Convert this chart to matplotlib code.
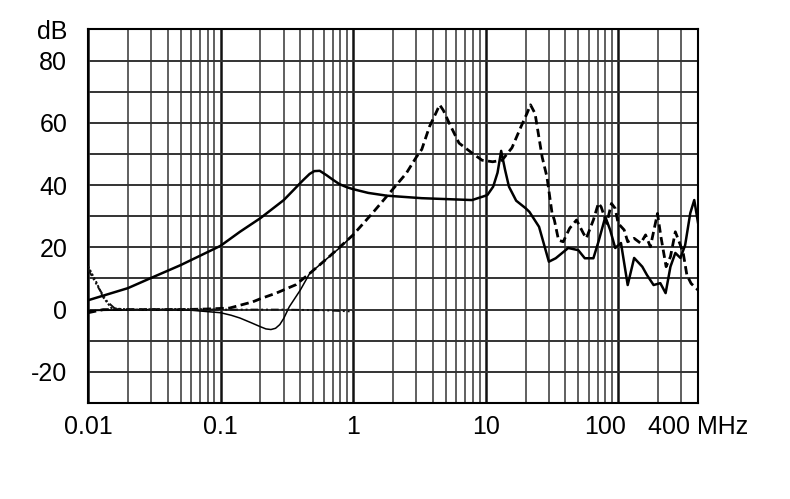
import matplotlib
matplotlib.use("Agg")
import matplotlib.pyplot as plt
import matplotlib.transforms as mtransforms
from matplotlib.ticker import LogLocator, NullFormatter

plt.rcParams["font.family"] = ["Liberation Sans", "DejaVu Sans"]

# main solid curve (MHz, dB)
sol_f = [0.01, 0.02, 0.03, 0.05, 0.1, 0.14, 0.2, 0.3, 0.42, 0.47, 0.51, 0.56,
         0.63, 0.7, 0.79, 0.9, 1.0, 1.3, 1.8, 3.3, 7.9, 9.5, 10.3, 11.4, 12.3,
         13.1, 14.0, 15.0, 17.0, 20.0, 21.4, 25.3, 30.0, 33.8, 42.0, 50.0,
         56.0, 65.0, 71.0, 80.0, 87.0, 95.0, 105.0, 118.0, 132.0, 152.0,
         165.0, 185.0, 208.0, 228.0, 248.0, 270.0, 295.0, 320.0, 350.0, 375.0,
         400.0]
sol_db = [3.0, 6.9, 10.2, 14.3, 20.5, 25.0, 29.4, 35.2, 41.6, 43.6, 44.5, 44.6,
          43.2, 41.8, 40.3, 39.3, 38.7, 37.5, 36.6, 35.8, 35.2, 36.3, 36.8, 39.5, 44.0,
          51.0, 45.0, 39.5, 35.0, 32.6, 31.4, 26.6, 15.4, 16.5, 19.8, 19.1,
          16.5, 16.5, 21.8, 29.8, 25.6, 19.8, 21.4, 7.9, 16.6, 13.8,
          11.1, 7.9, 8.5, 5.3, 13.8, 18.2, 16.6, 20.7, 31.0, 35.2,
          28.0]

# main dashed curve
dsh_f = [0.01, 0.013, 0.02, 0.05, 0.08, 0.117, 0.175, 0.2, 0.263, 0.37, 0.47,
         0.66, 1.0, 1.4, 1.88, 2.52, 3.0, 3.3, 3.77, 4.2, 4.5, 4.8, 5.3, 6.3,
         7.9, 9.4, 11.3, 13.3, 15.8, 18.5, 20.5, 21.8, 23.6, 26.7, 29.0, 31.7,
         33.0, 35.5, 38.5, 43.0, 48.5, 54.5, 57.5, 65.0, 71.0, 74.4, 82.0,
         89.0, 95.0, 100.0, 111.0, 118.0, 132.0, 148.0, 161.0, 175.0, 198.0,
         210.0, 230.0, 248.0, 270.0, 295.0, 310.0, 330.0, 355.0, 400.0]
dsh_db = [-1.0, 0.0, 0.0, 0.0, 0.2, 0.5, 2.5, 3.5, 5.3, 8.0, 11.6,
          17.0, 24.0, 31.0, 37.4, 43.8, 49.0, 51.5, 58.8, 63.0, 65.8, 64.0, 60.0, 53.5,
          50.3, 48.0, 47.5, 48.0, 52.0, 58.8, 63.0, 65.8, 63.0, 49.0, 42.7, 31.0,
          28.8, 22.3, 21.8, 26.1, 28.8, 24.6, 22.9, 28.8, 34.2, 33.0, 27.7,
          34.1, 32.5, 27.7, 25.6, 21.8, 22.9, 21.3, 24.0, 20.2, 30.9,
          23.5, 13.8, 17.0, 25.0, 20.7, 18.0, 11.1, 8.4, 6.3]

# thin solid curve (dips below 0, then joins the dashed one)
thin_f = [0.01, 0.03, 0.06, 0.1, 0.12, 0.14, 0.17, 0.2, 0.22, 0.24, 0.26,
          0.28, 0.3, 0.33, 0.4, 0.47, 0.62, 0.8, 1.0]
thin_db = [-0.3, 0.0, -0.2, -1.0, -1.8, -2.7, -4.2, -5.5, -6.2, -6.4, -6.0,
           -4.8, -2.8, 0.9, 6.3, 11.6, 16.0, 20.0, 24.0]

# thin dash-dot-dot curve
dd_f = [0.01, 0.012, 0.014, 0.016, 0.02, 0.05, 0.1, 0.3, 0.6, 1.0]
dd_db = [13.0, 7.0, 2.5, 0.3, 0.0, 0.0, 0.0, 0.0, -0.2, -0.6]

# thin dotted curve
dot_f = [0.01, 0.0115, 0.013, 0.015, 0.02, 0.05, 0.1]
dot_db = [14.0, 9.0, 4.0, 0.5, 0.0, 0.2, 0.0]

x_ticks = [0.01, 0.1, 1, 10, 100, 400]
x_labels = ["0.01", "0.1", "1", "10", "100", "400 MHz"]
y_ticks = list(range(-30, 91, 10))
y_labels = ["", "-20", "", "0", "", "20", "", "40", "", "60", "", "80", "dB"]

fig = plt.figure(figsize=(7.9, 4.99), dpi=100)
ax = fig.add_axes([0.1114, 0.1924, 0.7721, 0.7485])
ax.set_xscale("log")
ax.set_xlim(0.01, 400)
ax.set_ylim(-30, 90)

ax.plot(sol_f, sol_db, color="black", lw=1.8, zorder=5)
ax.plot(dsh_f, dsh_db, color="black", lw=2.0, ls=(0, (3, 1.6)), zorder=5)
ax.plot(thin_f, thin_db, color="black", lw=1.1, zorder=5)
ax.plot(dd_f, dd_db, color="#111111", lw=1.4, ls=(0, (4, 1.5, 1, 1.5, 1, 1.5)), zorder=5)
ax.plot(dot_f, dot_db, color="#111111", lw=1.4, ls=(0, (1.2, 1)), zorder=5)

ax.xaxis.set_major_locator(LogLocator(base=10, subs=(1.0,), numticks=20))
ax.xaxis.set_minor_locator(LogLocator(base=10, subs=range(2, 10), numticks=50))
ax.xaxis.set_minor_formatter(NullFormatter())
ax.grid(which="major", axis="x", color="#111111", lw=1.8)
ax.grid(which="minor", axis="x", color="#444444", lw=1.2)
ax.set_xticks(x_ticks, x_labels)
ax.set_yticks(y_ticks, y_labels)
ax.grid(which="major", axis="y", color="#333333", lw=1.4)
ax.tick_params(which="both", length=0)
ax.tick_params(axis="x", pad=9, labelsize=18)
ax.tick_params(axis="y", pad=15, labelsize=18)
ax.set_axisbelow(True)
for sp in ax.spines.values():
    sp.set_linewidth(1.5)

# nudge the "100" label left, as in the original
shift = mtransforms.ScaledTranslation(-13 / 100, 0, fig.dpi_scale_trans)
for lab in ax.get_xticklabels():
    if lab.get_text() == "100":
        lab.set_transform(lab.get_transform() + shift)

fig.savefig("out.png", dpi=100)
